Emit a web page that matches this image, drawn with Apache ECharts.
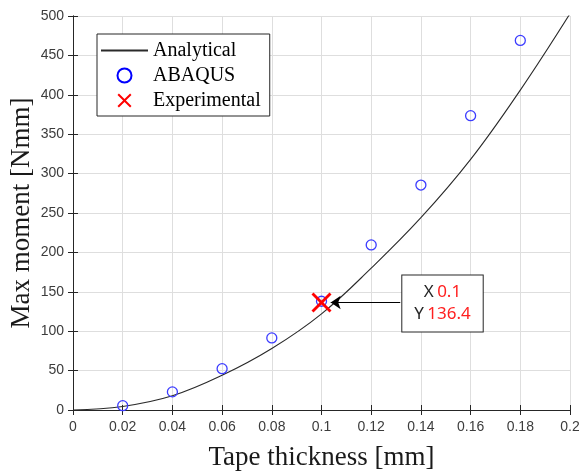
<!DOCTYPE html>
<html>
<head>
<meta charset="utf-8">
<script src="https://cdn.jsdelivr.net/npm/echarts@6/dist/echarts.min.js"></script>
<style>
  html, body { margin: 0; padding: 0; background: #fff; }
  #chart { width: 579px; height: 471px; }
</style>
</head>
<body>
<div id="chart"></div>
<script>
// values
const abaqusThickness = [0.02, 0.04, 0.06, 0.08, 0.1, 0.12, 0.14, 0.16, 0.18];
const abaqusMoment = [5.5, 23, 52.5, 91.5, 138, 209.5, 285.5, 373.5, 469];
const analyticalThickness = [0, 0.02, 0.04, 0.06, 0.08, 0.1, 0.12, 0.14, 0.16, 0.18, 0.2];
const analyticalMoment = [0, 4.5, 18, 44, 78, 122, 180, 244, 318, 406, 503];
const experimentalThickness = [0.1];
const experimentalMoment = [136.4];

const pairs = (xs, ys) => xs.map((x, i) => [x, ys[i]]);

// red "x" marker
const crossPath = 'path://M1,0 L5,4 L9,0 L10,1 L6,5 L10,9 L9,10 L5,6 L1,10 L0,9 L4,5 L0,1 Z';

const frame = '#262626';
const tickFont = { fontFamily: 'Liberation Sans', fontSize: 14, color: '#3c3c3c' };
const nameFont = { fontFamily: 'Liberation Serif', fontSize: 27, color: '#1a1a1a' };

const chart = echarts.init(document.getElementById('chart'));
const option = {
  animation: false,
  backgroundColor: '#fff',
  grid: { left: 73, right: 9, top: 16, bottom: 61, outerBoundsMode: 'none', containLabel: false },
  legend: {
    orient: 'vertical',
    left: 97,
    top: 34,
    padding: [4, 9, 3, 3],
    itemGap: 0,
    itemWidth: 47,
    itemHeight: 14,
    backgroundColor: '#fff',
    borderColor: frame,
    borderWidth: 1,
    textStyle: { fontFamily: 'Liberation Serif', fontSize: 20, color: '#000', lineHeight: 25 },
    data: [
      { name: 'Analytical', itemStyle: { color: 'rgba(0,0,0,0)', borderWidth: 0, opacity: 0 } },
      { name: 'ABAQUS', itemStyle: { color: 'rgba(0,0,0,0)', borderColor: '#0000ff', borderWidth: 2 } },
      { name: 'Experimental' }
    ]
  },
  xAxis: [
    {
      type: 'value', min: 0, max: 0.2, interval: 0.02,
      name: 'Tape thickness [mm]', nameLocation: 'middle', nameGap: 34, nameMoveOverlap: false,
      nameTextStyle: nameFont,
      axisLine: { show: true, lineStyle: { color: frame, width: 1 } },
      axisTick: { show: true, inside: true, length: 5, lineStyle: { color: frame } },
      axisLabel: Object.assign({ margin: 10 }, tickFont),
      splitLine: { show: true, lineStyle: { color: '#dedede', width: 1 } }
    },
    {
      type: 'value', min: 0, max: 0.2, interval: 0.02, position: 'top',
      axisLine: { show: true, lineStyle: { color: frame, width: 1 } },
      axisTick: { show: true, inside: true, length: 5, lineStyle: { color: frame } },
      axisLabel: { show: false },
      splitLine: { show: false }
    }
  ],
  yAxis: [
    {
      type: 'value', min: 0, max: 500, interval: 50,
      name: 'Max moment [Nmm]', nameLocation: 'middle', nameGap: 38, nameRotate: 90, nameMoveOverlap: false,
      nameTextStyle: nameFont,
      axisLine: { show: true, lineStyle: { color: frame, width: 1 } },
      axisTick: { show: true, inside: true, length: 5, lineStyle: { color: frame } },
      axisLabel: Object.assign({ margin: 9 }, tickFont),
      splitLine: { show: true, lineStyle: { color: '#dedede', width: 1 } }
    },
    {
      type: 'value', min: 0, max: 500, interval: 50, position: 'right',
      axisLine: { show: true, lineStyle: { color: frame, width: 1 } },
      axisTick: { show: true, inside: true, length: 5, lineStyle: { color: frame } },
      axisLabel: { show: false },
      splitLine: { show: false }
    }
  ],
  series: [
    {
      name: 'Analytical',
      type: 'line',
      data: pairs(analyticalThickness, analyticalMoment),
      smooth: 0.4,
      symbol: 'none',
      clip: true,
      lineStyle: { color: '#2a2a2a', width: 1.1 },
      itemStyle: { color: '#2a2a2a' },
      z: 2
    },
    {
      name: 'ABAQUS',
      type: 'scatter',
      data: pairs(abaqusThickness, abaqusMoment),
      symbol: 'circle',
      symbolSize: 10,
      itemStyle: { color: 'rgba(0,0,0,0)', borderColor: '#3c3cff', borderWidth: 1.3, opacity: 1 },
      z: 3
    },
    {
      name: 'Experimental',
      type: 'scatter',
      data: pairs(experimentalThickness, experimentalMoment),
      symbol: crossPath,
      symbolSize: 20,
      itemStyle: { color: '#ff0000', opacity: 1 },
      z: 5,
      label: {
        show: true,
        position: 'right',
        distance: 111,
        offset: [0, 1],
        formatter: (p) => '{k|X} {v|' + p.value[0] + '}\n{k|Y} {v|' + p.value[1] + '}',
        align: 'center',
        backgroundColor: '#fff',
        borderColor: frame,
        borderWidth: 1,
        padding: [6, 12, 6, 12],
        lineHeight: 22,
        rich: {
          k: { fontFamily: 'Noto Sans', fontSize: 17, color: '#262626', lineHeight: 22 },
          v: { fontFamily: 'Noto Sans', fontSize: 17, color: '#ff2020', lineHeight: 22 }
        }
      },
      markLine: {
        silent: true,
        z: 10,
        symbol: ['none', 'arrow'],
        symbolSize: 10,
        label: { show: false },
        lineStyle: { color: '#000', type: 'solid', width: 1 },
        itemStyle: { color: '#000' },
        data: [[
          { coord: [0.1317, 136.4] },
          { coord: [0.1037, 136.4] }
        ]]
      }
    }
  ]
};
chart.setOption(option);
</script>
</body>
</html>
